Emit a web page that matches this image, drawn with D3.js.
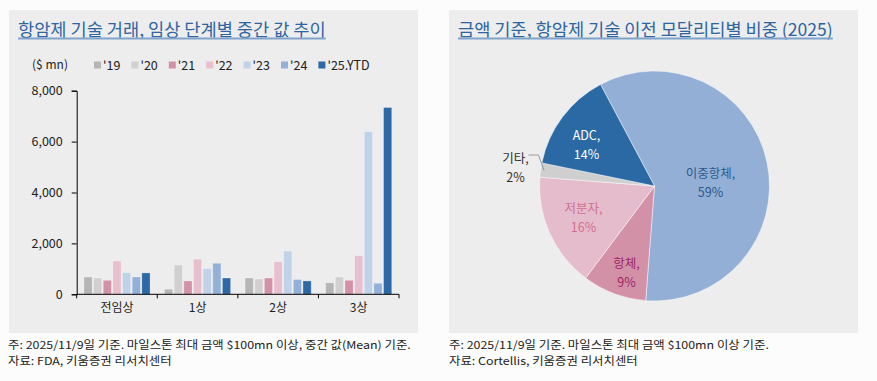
<!DOCTYPE html>
<html>
<head>
<meta charset="utf-8">
<script src="https://cdn.jsdelivr.net/npm/d3@7"></script>
<style>
  html, body { margin: 0; padding: 0; background: #fdfcfc; }
  svg { display: block; font-family: "Noto Sans CJK KR", "Noto Sans", sans-serif; }
</style>
</head>
<body>
<div id="chart"></div>
<script>
// bar chart data
const stages = ["전임상", "1상", "2상", "3상"];
const years = ["'19", "'20", "'21", "'22", "'23", "'24", "'25.YTD"];
const yearColors = ["#b5b5b5", "#d0d0d0", "#d391a7", "#e8bfcd", "#bfd2e8", "#94b0d6", "#2c69a6"];
const values19 = [680, 200, 640, 450];
const values20 = [640, 1150, 600, 680];
const values21 = [550, 525, 640, 550];
const values22 = [1310, 1380, 1285, 1520];
const values23 = [850, 1010, 1700, 6390];
const values24 = [680, 1220, 580, 435];
const values25 = [840, 640, 525, 7340];
const yTicks = [0, 2000, 4000, 6000, 8000];

// pie data
const modalities = ["이중항체", "항체", "저분자", "기타", "ADC"];
const shares = [59, 9, 16, 2, 14];
const pieColors = ["#93afd5", "#d391a8", "#e5bccb", "#cfcfcf", "#2b69a5"];
const pieLabelColors = ["#2c5a8f", "#9c2560", "#cf6f93", "#333333", "#ffffff"];

const W = 877, H = 381;
const svg = d3.select("#chart").append("svg").attr("width", W).attr("height", H);

// panels
[[9, 409], [449, 409]].forEach(([x, w]) => {
    svg.append("rect").attr("x", x).attr("y", 10).attr("width", w).attr("height", 323).attr("fill", "#ededed");
});

function title(x, text) {
    const t = svg.append("text").attr("x", x).attr("y", 36)
        .attr("font-size", 17.6).attr("fill", "#2e64a0").text(text);
    const len = t.node().getComputedTextLength();
    svg.append("line").attr("x1", x).attr("x2", x + len).attr("y1", 38.5).attr("y2", 38.5)
        .attr("stroke", "#7fa3cb").attr("stroke-width", 2);
}
title(18, "항암제 기술 거래, 임상 단계별 중간 값 추이");
title(458, "금액 기준, 항암제 기술 이전 모달리티별 비중 (2025)");

// ---- bar chart ----
const series = [values19, values20, values21, values22, values23, values24, values25];
const x0 = d3.scaleBand().domain(stages).range([76.7, 399]).padding(0);
const x1 = d3.scaleBand().domain(years).range([0, x0.bandwidth()]).paddingInner(0.15).paddingOuter(0.75);
const y = d3.scaleLinear().domain([0, 8000]).range([294.3, 90.7]);

const bars = svg.append("g");
years.forEach((yr, i) => {
    bars.selectAll(null).data(series[i]).enter().append("rect")
        .attr("x", (d, j) => x0(stages[j]) + x1(yr))
        .attr("y", d => y(d))
        .attr("width", x1.bandwidth())
        .attr("height", d => y(0) - y(d))
        .attr("fill", yearColors[i])
        .attr("stroke", "rgba(255,255,255,0.35)")
        .attr("stroke-width", 0.8);
});

const yAxis = svg.append("g").attr("transform", "translate(76.7,0)")
    .call(d3.axisLeft(y).tickValues(yTicks).tickSize(5).tickPadding(9).tickFormat(d3.format(",")));
yAxis.selectAll("text").attr("font-size", 12.5).attr("fill", "#222").attr("font-family", "Noto Sans CJK KR");
yAxis.selectAll("line, path").attr("stroke", "#000");

const xAxis = svg.append("g").attr("transform", "translate(0,294.3)")
    .call(d3.axisBottom(x0).tickSize(0).tickPadding(9));
xAxis.selectAll("text").attr("font-size", 12).attr("fill", "#222").attr("font-family", "Noto Sans CJK KR");
xAxis.select(".domain").attr("stroke", "#000").attr("d", "M76.7,0H399");
xAxis.selectAll(null).data(stages.concat([null])).enter().append("line")
    .attr("x1", (d, i) => i < stages.length ? x0(d) : x0.range()[1])
    .attr("x2", (d, i) => i < stages.length ? x0(d) : x0.range()[1])
    .attr("y1", 0).attr("y2", 4).attr("stroke", "#000");

// legend
svg.append("text").attr("x", 50).attr("y", 69).attr("text-anchor", "middle")
    .attr("font-size", 12).attr("fill", "#222").text("($ mn)");
const legend = svg.append("g").selectAll("g").data(years).enter().append("g")
    .attr("transform", (d, i) => `translate(${94 + i * 37.4},65)`);
legend.append("rect").attr("x", 0).attr("y", -3.5).attr("width", 7).attr("height", 7)
    .attr("fill", (d, i) => yearColors[i]);
legend.append("text").attr("x", 9).attr("y", 4.5).attr("font-size", 12.5).attr("fill", "#222").text(d => d);

// ---- pie ----
const cx = 654.5, cy = 186, r = 115;
const pie = d3.pie().sort(null).startAngle(-28 * Math.PI / 180).endAngle(332 * Math.PI / 180);
const arcs = pie(shares);
const arc = d3.arc().innerRadius(0).outerRadius(r);
const pg = svg.append("g").attr("transform", `translate(${cx},${cy})`);
pg.selectAll("path").data(arcs).enter().append("path")
    .attr("d", arc).attr("fill", (d, i) => pieColors[i])
    .attr("stroke", "rgba(255,255,255,0.6)").attr("stroke-width", 0.8);

const labelPos = [[56, -8], [-28, 82], [-71, 27], [-139, -23], [-68, -46]];
arcs.forEach((a, i) => {
    const [lx, ly] = labelPos[i];
    const t = pg.append("text").attr("text-anchor", "middle").attr("font-size", 12.5)
        .attr("fill", pieLabelColors[i]);
    t.append("tspan").attr("x", lx).attr("y", ly).text(modalities[i] + ",");
    t.append("tspan").attr("x", lx).attr("y", ly + 19).text(shares[i] + "%");
});
// leader line for 기타
const mid = (arcs[3].startAngle + arcs[3].endAngle) / 2;
const ex = Math.sin(mid) * r * 0.97, ey = -Math.cos(mid) * r * 0.97;
pg.append("path")
    .attr("d", `M${-126},${-31}H${-116}L${ex},${ey}`)
    .attr("fill", "none").attr("stroke", "#888").attr("stroke-width", 0.8);

// footnotes (slightly widened small text)
function notes(x, lines) {
    const g = svg.append("g").attr("transform", `translate(${x},0) scale(1.13,1)`);
    lines.forEach((s, i) => {
        g.append("text").attr("x", 0).attr("y", 349 + i * 16.5)
            .attr("font-size", 11).attr("fill", "#222").text(s);
    });
}
notes(8, ["주: 2025/11/9일 기준. 마일스톤 최대 금액 $100mn 이상, 중간 값(Mean) 기준.", "자료: FDA, 키움증권 리서치센터"]);
notes(449, ["주: 2025/11/9일 기준. 마일스톤 최대 금액 $100mn 이상 기준.", "자료: Cortellis, 키움증권 리서치센터"]);
</script>
</body>
</html>
